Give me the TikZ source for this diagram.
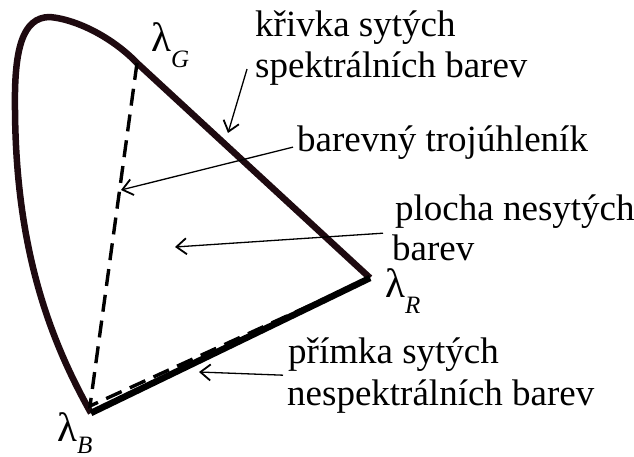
\documentclass[tikz,border=0pt]{standalone}
\usepackage{fontspec}
\setmainfont{Liberation Serif}
\usetikzlibrary{arrows.meta}
\definecolor{curvecol}{RGB}{30,10,16}
\begin{document}
\begin{tikzpicture}[x=1pt,y=-1pt,
  lab/.style={anchor=base west, inner sep=0pt, font=\fontsize{37}{40}\selectfont},
  glab/.style={anchor=base west, inner sep=0pt, font=\fontsize{41}{41}\selectfont},
  ptr/.style={line width=1.3pt, -{Straight Barb[length=10pt,width=16pt,line width=1.8pt]}},
  spec/.style={draw=curvecol, line width=6.5pt, line join=round},
  purple/.style={draw=black, line width=6.5pt},
  tri/.style={draw=black, dash pattern=on 17pt off 9pt, line width=3.4pt}]
\useasboundingbox (0,0) rectangle (634,457);
\coordinate (G) at (137,63);
\coordinate (R) at (370,278);
\coordinate (B) at (91,413);
\coordinate (Bd) at (90,406);
% spectral locus
\draw[spec] (B) .. controls (50,340) and (16,250) .. (15,110)
  .. controls (14,50) and (22,17) .. (50,17)
  .. controls (80,20) and (115,40) .. (G) -- (R);
% purple line
\draw[purple] (B) -- (R);
% colour triangle
\draw[tri] (G) -- (Bd) -- (R);
% labels
\node[lab] (k1) at (255,37) {křivka sytých};
\node[lab] (k2) at (255,78) {spektrálních barev};
\node[lab] (t) at (297,152) {barevný trojúhleník};
\node[lab] (p1) at (395,220) {plocha nesytých};
\node[lab] (p2) at (392,260) {barev};
\node[lab] (m1) at (288,363) {přímka sytých};
\node[lab] (m2) at (287,405) {nespektrálních barev};
\node[glab] (lg) at (151,52) {λ\raisebox{-16pt}{\fontsize{25}{25}\selectfont\itshape G}};
\node[glab] (lr) at (385,297) {λ\raisebox{-16pt}{\fontsize{25}{25}\selectfont\itshape R}};
\node[glab] (lb) at (57,441) {λ\raisebox{-12pt}{\fontsize{25}{25}\selectfont\itshape B}};
% arrow targets
\coordinate (a1) at (228,133);
\coordinate (a2) at (121,190);
\coordinate (a3) at (175,247);
\coordinate (a4) at (199,372);
\draw[ptr] ([xshift=-8pt]k2.west) -- (a1);
\draw[ptr] ([xshift=-4pt,yshift=-4pt]t.west) -- (a2);
\draw[ptr] ([xshift=-12pt,yshift=-5pt]p1.south west) -- (a3);
\draw[ptr] ([xshift=-5pt,yshift=-4pt]m1.south west) -- (a4);
\end{tikzpicture}
\end{document}
